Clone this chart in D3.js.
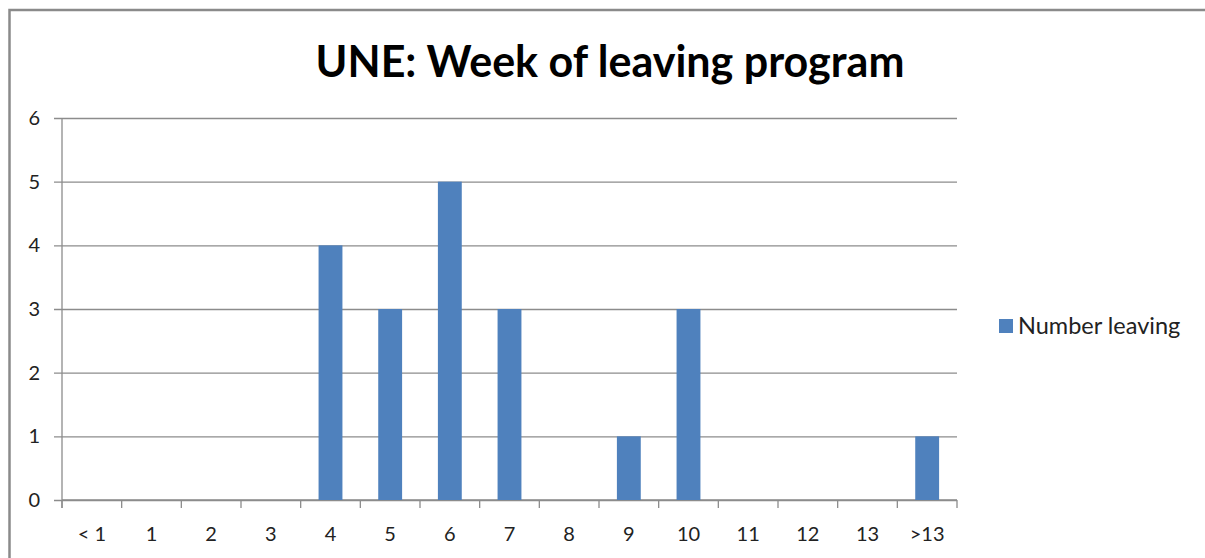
<!DOCTYPE html>
<html>
<head>
<meta charset="utf-8">
<script src="https://cdn.jsdelivr.net/npm/d3@7"></script>
<style>
    body { margin: 0; background: #fff; }
    svg { display: block; font-family: Lato, "Open Sans", sans-serif; }
</style>
</head>
<body>
<svg class="chart" width="1205" height="558"></svg>
<script>
(function () {
    'use strict';

    var categories = ['< 1', '1', '2', '3', '4', '5', '6', '7', '8', '9', '10', '11', '12', '13', '>13'],
        numberLeaving = [0, 0, 0, 0, 4, 3, 5, 3, 0, 1, 3, 0, 0, 0, 1],
        yTicks = [0, 1, 2, 3, 4, 5, 6],
        seriesName = 'Number leaving',
        title = 'UNE: Week of leaving program';

    var left = 62, right = 957, top = 118, bottom = 500,
        barColor = '#4F81BD', gridColor = '#8c8c8c', axisColor = '#8c8c8c',
        svg = d3.select('.chart'), x, y, g;

    // chart frame
    svg.append('rect')
        .attr('x', 9.5)
        .attr('y', 10)
        .attr('width', 1220)
        .attr('height', 600)
        .attr('fill', 'none')
        .attr('stroke', '#8a8a8a')
        .attr('stroke-width', 2.5);

    svg.append('text')
        .attr('x', 610)
        .attr('y', 77)
        .attr('text-anchor', 'middle')
        .attr('font-size', 43)
        .attr('font-weight', 'bold')
        .attr('fill', '#000')
        .text(title);

    x = d3.scaleBand()
        .domain(categories)
        .range([left, right])
        .paddingInner(0.6)
        .paddingOuter(0.3);

    y = d3.scaleLinear()
        .domain([0, 6])
        .range([bottom, top]);

    // gridlines + y axis
    g = svg.append('g')
        .attr('transform', 'translate(' + left + ',0)')
        .call(d3.axisLeft(y).tickValues(yTicks).tickFormat(d3.format('d'))
            .tickSize(-(right - left)).tickSizeOuter(0).tickPadding(22));
    g.select('.domain').remove();
    g.selectAll('.tick line')
        .attr('x1', -8)
        .attr('stroke', gridColor)
        .attr('stroke-width', 1.3);
    g.selectAll('.tick text')
        .attr('font-size', 20)
        .attr('font-family', 'Lato, sans-serif')
        .attr('fill', '#222');

    svg.append('line')
        .attr('x1', left).attr('x2', left)
        .attr('y1', top).attr('y2', bottom + 8)
        .attr('stroke', axisColor)
        .attr('stroke-width', 1.3);

    // x axis with ticks at band edges
    g = svg.append('g')
        .attr('transform', 'translate(0,' + bottom + ')');
    g.append('line')
        .attr('x1', left).attr('x2', right)
        .attr('stroke', axisColor)
        .attr('stroke-width', 1.3);
    g.selectAll('line.tk')
        .data(d3.range(categories.length + 1))
        .enter().append('line')
        .attr('class', 'tk')
        .attr('x1', function (d) { return left + d * x.step(); })
        .attr('x2', function (d) { return left + d * x.step(); })
        .attr('y1', 0)
        .attr('y2', 8)
        .attr('stroke', axisColor)
        .attr('stroke-width', 1.3);
    g.selectAll('text')
        .data(categories)
        .enter().append('text')
        .attr('x', function (d) { return x(d) + x.bandwidth() / 2; })
        .attr('y', 41)
        .attr('text-anchor', 'middle')
        .attr('font-size', 20)
        .attr('fill', '#222')
        .text(function (d) { return d; });

    // bars
    svg.append('g').selectAll('rect')
        .data(numberLeaving)
        .enter().append('rect')
        .attr('x', function (d, i) { return x(categories[i]); })
        .attr('width', x.bandwidth())
        .attr('y', function (d) { return y(d); })
        .attr('height', function (d) { return bottom - y(d); })
        .attr('fill', barColor);

    // legend
    g = svg.append('g').attr('transform', 'translate(999,319)');
    g.append('rect')
        .attr('width', 14)
        .attr('height', 14)
        .attr('fill', barColor);
    g.append('text')
        .attr('x', 19)
        .attr('y', 15)
        .attr('font-size', 23.5)
        .attr('fill', '#222')
        .text(seriesName);
}());
</script>
</body>
</html>
